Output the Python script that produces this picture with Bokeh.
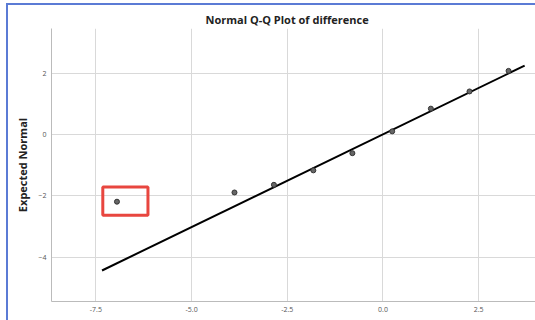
from bokeh.plotting import figure
from bokeh.layouts import column
from bokeh.models import Range1d, FixedTicker, Title
from bokeh.embed import file_html
from bokeh.resources import INLINE

# Observed values (difference) and expected normal values
observed = [-6.95, -3.88, -2.85, -1.82, -0.80, 0.24, 1.25, 2.26, 3.28]
expected = [-2.19, -1.89, -1.64, -1.17, -0.61, 0.10, 0.84, 1.40, 2.07]

# Reference line end points
line_x = [-7.34, 3.70]
line_y = [-4.43, 2.24]

x_ticks = [-7.5, -5.0, -2.5, 0.0, 2.5]
y_ticks = [-4, -2, 0, 2]

title_text = "Normal Q-Q Plot of difference"
y_label = "Expected Normal"

# highlight box around the outlier (data units)
box_left, box_right, box_top, box_bottom = -7.32, -6.14, -1.71, -2.63

FONT = "Open Sans"

p = figure(width=528, height=316, output_backend="svg", toolbar_location=None,
           x_range=Range1d(-8.66, 4.01), y_range=Range1d(-5.44, 3.45),
           min_border_left=43, min_border_right=0, min_border_top=23,
           min_border_bottom=20)

p.title = Title(text=title_text, align="left", offset=154, text_font=FONT,
                text_font_size="11px", text_font_style="bold", text_color="#222222",
                standoff=4)
p.outline_line_color = None
p.background_fill_color = "white"
p.border_fill_color = "white"

for ax in (p.xaxis[0], p.yaxis[0]):
    ax.axis_line_color = "#bbbbbb"
    ax.axis_line_width = 1
    ax.major_tick_line_color = None
    ax.minor_tick_line_color = None
    ax.major_tick_out = 0
    ax.major_tick_in = 0
    ax.minor_tick_out = 0
    ax.minor_tick_in = 0
    ax.major_label_text_font = FONT
    ax.major_label_text_font_size = "7px"
    ax.major_label_text_color = "#555555"
    ax.major_label_standoff = 5

p.xaxis.ticker = FixedTicker(ticks=x_ticks)
p.yaxis.ticker = FixedTicker(ticks=y_ticks)
p.xaxis.major_label_overrides = {v: f"{v:.1f}" for v in x_ticks}
p.yaxis.axis_label = y_label
p.yaxis.axis_label_text_font = FONT
p.yaxis.axis_label_text_font_size = "11px"
p.yaxis.axis_label_text_font_style = "bold"
p.yaxis.axis_label_text_color = "#222222"
p.yaxis.axis_label_standoff = 5

p.xgrid.grid_line_color = "#d9d9d9"
p.ygrid.grid_line_color = "#d9d9d9"
p.xgrid.grid_line_width = 1
p.ygrid.grid_line_width = 1

p.line(line_x, line_y, line_color="black", line_width=2)
p.scatter(observed, expected, size=5, fill_color="#666666", line_color="#333333",
          line_width=1)

p.quad(left=[box_left], right=[box_right], top=[box_top], bottom=[box_bottom],
       fill_color=None, line_color="#e8463f", line_width=3)

layout = column(p, styles={"border-left": "2px solid #5b7bd5",
                           "border-top": "2px solid #5b7bd5",
                           "margin-left": "6px", "margin-top": "3px",
                           "box-sizing": "content-box", "overflow": "visible"})

open("out.html", "w").write(file_html(layout, INLINE))
